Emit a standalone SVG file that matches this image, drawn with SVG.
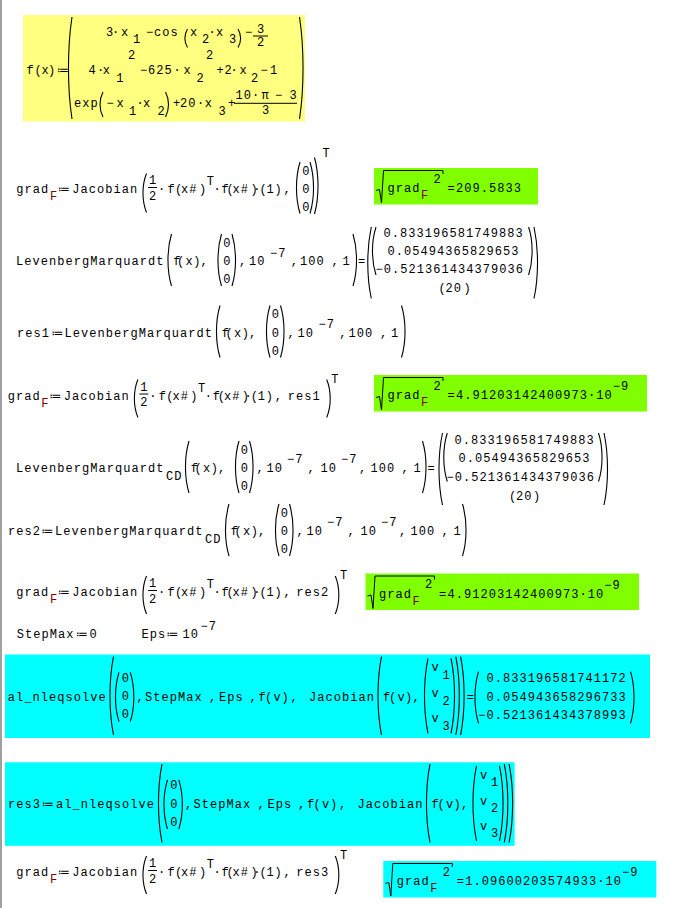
<svg xmlns="http://www.w3.org/2000/svg" width="683" height="908" viewBox="0 0 683 908">
<style>
.t{font-family:"Liberation Mono","DejaVu Sans Mono",monospace;font-size:12px;letter-spacing:1.05px;fill:#000}
.c{text-anchor:middle;letter-spacing:0}
.F{fill:#800000}
.a{font-family:"DejaVu Sans",sans-serif;font-size:12px;text-anchor:middle;fill:#000}
.p{fill:none;stroke:#000;stroke-width:1.1}
.l{stroke:#000;stroke-width:1}
.rad{fill:none;stroke:#000;stroke-width:1}
.g{fill:#80FF00}
.cy{fill:#00FFFF}
</style>
<rect width="683" height="908" fill="#fff"/>
<rect x="0" y="0" width="2" height="908" fill="#a0a0a0"/>

<g id="fx">
<rect x="23" y="15" width="282" height="106.5" fill="#FFFF80"/>
<text class="t c" x="30 38 45 51.5" y="74">f(x)</text>
<text class="a" x="63" y="74">≔</text>
<path class="p" d="M72,17 c-4.7,30.6 -4.7,71.4 0,102 M299.5,17 c4.7,30.6 4.7,71.4 0,102"/>
<text class="t c" x="109.5 115.5 124.7" y="36">3·x</text>
<text class="t c" x="136.5" y="43.3">1</text>
<text class="t c" x="149.5" y="36">−</text>
<text class="t" x="154" y="36">cos</text>
<path class="p" d="M187.5,29 c-3.5,5.5 -3.5,13 0,18.5 M238,29 c3.5,5.5 3.5,13 0,18.5"/>
<text class="t c" x="193.7" y="36">x</text>
<text class="t c" x="205.5" y="43.3">2</text>
<text class="t c" x="212" y="36">·</text>
<text class="t c" x="219.7" y="36">x</text>
<text class="t c" x="232.5" y="43.3">3</text>
<text class="t c" x="248.5" y="36">−</text>
<text class="t c" x="260.5" y="33">3</text>
<line class="l" x1="253" y1="36" x2="268" y2="36"/>
<text class="t c" x="260.5" y="46.3">2</text>
<text class="t c" x="92 100.5 106.3" y="74">4·x</text>
<text class="t c" x="119.8" y="81.5">1</text>
<text class="t c" x="131.5" y="59">2</text>
<text class="t c" x="143.5" y="74">−</text>
<text class="t" x="148" y="74">625</text>
<text class="t c" x="177 187" y="74">·x</text>
<text class="t c" x="200" y="81.5">2</text>
<text class="t c" x="209.5" y="59">2</text>
<text class="t c" x="220 228 234 243" y="74">+2·x</text>
<text class="t c" x="254.5" y="81.5">2</text>
<text class="t c" x="264 273.5" y="74">−1</text>
<text class="t" x="74" y="106.5">exp</text>
<path class="p" d="M103,92 c-4,7.5 -4,17.5 0,25 M165.5,92 c4,7.5 4,17.5 0,25"/>
<text class="t c" x="110 120" y="106.5">−x</text>
<text class="t c" x="132.5" y="114.5">1</text>
<text class="t c" x="140 146.5" y="106.5">·x</text>
<text class="t c" x="161" y="114.5">2</text>
<text class="t c" x="176.5" y="106.5">+</text>
<text class="t" x="180" y="106.5">20</text>
<text class="t c" x="200.5 208.3" y="106.5">·x</text>
<text class="t c" x="222" y="114.5">3</text>
<text class="t c" x="231.5" y="106.5">+</text>
<text class="t" x="235.5" y="99">10</text>
<text class="t c" x="255.5 265 278.5 293" y="99">·π−3</text>
<line class="l" x1="234" y1="103.3" x2="297" y2="103.3"/>
<text class="t c" x="265.5" y="113.8">3</text>
</g>

<g id="grad1">
<text class="t" x="16.3" y="193">grad</text>
<text class="t c F" x="53.5" y="200">F</text>
<text class="a" x="64" y="193">≔</text>
<text class="t" x="72.3" y="193">Jacobian</text>
<path class="p" d="M146.5,173.5 c-4.7,11.7 -4.7,27.3 0,39"/>
<text class="t c" x="152.5" y="184">1</text>
<line class="l" x1="148" y1="187.5" x2="157" y2="187.5"/>
<text class="t c" x="152.5" y="199.5">2</text>
<text class="t c" x="161.5 171 178.5" y="193">·f(</text>
<text class="t" x="181" y="193">x#</text>
<text class="t c" x="202.5" y="193">)</text>
<text class="t c" x="210.3" y="185">T</text>
<text class="t c" x="217 225 230" y="193">·f(</text>
<text class="t" x="232.5" y="193">x#</text>
<text class="t c" x="254 256.8 263 270 278 287" y="193">)·(1),</text>
<path class="p" d="M300,162 c-4.7,15.5 -4.7,36 0,51.5 M310,162 c4.7,15.5 4.7,36 0,51.5 M314.5,157.5 c4.7,17 4.7,39.5 0,56.5"/>
<text class="t c" x="305.8" y="175">0</text>
<text class="t c" x="305.8" y="193">0</text>
<text class="t c" x="305.8" y="210.5">0</text>
<text class="t c" x="326" y="157">T</text>
</g>
<g id="norm1">
<rect class="g" x="374" y="168" width="164" height="36.5"/>
<path class="rad" d="M376,190.5 L379.5,189.5 L381.5,203 L383.5,170.5 H443 V174"/>
<text class="t" x="387.5" y="192">grad</text>
<text class="t c F" x="424.5" y="199">F</text>
<text class="t c" x="437" y="182.5">2</text>
<text class="t c" x="451" y="192">=</text>
<text class="t" x="456" y="192">209.5833</text>
</g>

<g id="lm">
<text class="t" x="16" y="265">LevenbergMarquardt</text>
<path class="p" d="M171.5,234 c-4.7,15.6 -4.7,36.4 0,52 M221.5,234 c-4.7,15.6 -4.7,36.4 0,52 M232,234 c4.7,15.6 4.7,36.4 0,52 M353,234 c4.7,15.6 4.7,36.4 0,52"/>
<text class="t c" x="176.8 180.6 189 196.8 204" y="265">f(x),</text>
<text class="t c" x="226.75" y="247">0</text>
<text class="t c" x="226.75" y="265">0</text>
<text class="t c" x="226.75" y="282.5">0</text>
<text class="t c" x="242.5" y="265">,</text>
<text class="t" x="249" y="265">10</text>
<text class="t" x="270" y="256.5">−7</text>
<text class="t c" x="294.3" y="265">,</text>
<text class="t" x="300" y="265">100</text>
<text class="t c" x="335 346" y="265">,1</text>
<text class="t c" x="361.7" y="265">=</text>
<path class="p" d="M371.3,227 c-4.7,21.5 -4.7,50 0,71.5 M376,227 c-4.7,14.4 -4.7,33.6 0,48 M528.6,227 c4.7,14.4 4.7,33.6 0,48 M534,227 c4.7,21.5 4.7,50 0,71.5"/>
<text class="t" x="383.5" y="236.5">0.833196581749883</text>
<text class="t" x="387.6" y="254.5">0.05494365829653</text>
<text class="t" x="375.5" y="273">−0.521361434379036</text>
<text class="t c" x="442" y="292">(</text>
<text class="t" x="445.6" y="292">20</text>
<text class="t c" x="467" y="292">)</text>
</g>

<g id="res1">
<text class="t" x="17" y="336.5">res1</text>
<text class="a" x="57.5" y="336.5">≔</text>
<text class="t" x="64.5" y="336.5">LevenbergMarquardt</text>
<path class="p" d="M220,305.5 c-4.7,15.6 -4.7,36.4 0,52 M270,305.5 c-4.7,15.6 -4.7,36.4 0,52 M280.5,305.5 c4.7,15.6 4.7,36.4 0,52 M401.5,305.5 c4.7,15.6 4.7,36.4 0,52"/>
<text class="t c" x="225.3 229.1 237.5 245.3 252.5" y="336.5">f(x),</text>
<text class="t c" x="275.25" y="318">0</text>
<text class="t c" x="275.25" y="336.5">0</text>
<text class="t c" x="275.25" y="354.5">0</text>
<text class="t c" x="291" y="336.5">,</text>
<text class="t" x="297.5" y="336.5">10</text>
<text class="t" x="318.5" y="328">−7</text>
<text class="t c" x="342.8" y="336.5">,</text>
<text class="t" x="348.5" y="336.5">100</text>
<text class="t c" x="383.5 394.5" y="336.5">,1</text>
</g>

<g id="grad2">
<text class="t" x="7.7" y="399.5">grad</text>
<text class="t c F" x="44.9" y="406.5">F</text>
<text class="a" x="55.4" y="399.5">≔</text>
<text class="t" x="63.7" y="399.5">Jacobian</text>
<path class="p" d="M137.9,379.5 c-4.7,11.4 -4.7,26.6 0,38 M326.7,379.5 c4.7,11.4 4.7,26.6 0,38"/>
<text class="t c" x="143.9" y="390.5">1</text>
<line class="l" x1="139.4" y1="394" x2="148.4" y2="394"/>
<text class="t c" x="143.9" y="406">2</text>
<text class="t c" x="152.9 162.4 169.9" y="399.5">·f(</text>
<text class="t" x="172.4" y="399.5">x#</text>
<text class="t c" x="193.9" y="399.5">)</text>
<text class="t c" x="201.7" y="391.5">T</text>
<text class="t c" x="208.4 216.4 221.4" y="399.5">·f(</text>
<text class="t" x="223.9" y="399.5">x#</text>
<text class="t c" x="245.4 248.2 254.4 261.4 269.4 278.4" y="399.5">)·(1),</text>
<text class="t" x="287.7" y="399.5">res1</text>
<text class="t c" x="334.9" y="382.5">T</text>
</g>
<g id="norm2">
<rect class="g" x="374" y="375" width="273" height="36.5"/>
<path class="rad" d="M376,397.5 L379.5,396.5 L381.5,410 L383.5,377.5 H443 V381"/>
<text class="t" x="387.5" y="399">grad</text>
<text class="t c F" x="424.5" y="406">F</text>
<text class="t c" x="437" y="389.5">2</text>
<text class="t c" x="451" y="399">=</text>
<text class="t" x="456" y="399">4.91203142400973·10</text>
<text class="t" x="612.75" y="390">−9</text>
</g>

<g id="lmcd">
<text class="t" x="16" y="471.5">LevenbergMarquardt</text>
<text class="t" x="166" y="480">CD</text>
<path class="p" d="M189,441 c-4.7,15.6 -4.7,36.4 0,52 M239,441 c-4.7,15.6 -4.7,36.4 0,52 M249.5,441 c4.7,15.6 4.7,36.4 0,52 M422.5,441 c4.7,15.6 4.7,36.4 0,52"/>
<text class="t c" x="194.3 198.1 206.5 214.3 221.5" y="471.5">f(x),</text>
<text class="t c" x="244.25" y="453.5">0</text>
<text class="t c" x="244.25" y="471.5">0</text>
<text class="t c" x="244.25" y="489.5">0</text>
<text class="t c" x="260" y="471.5">,</text>
<text class="t" x="266.5" y="471.5">10</text>
<text class="t" x="287" y="462.5">−7</text>
<text class="t c" x="311" y="471.5">,</text>
<text class="t" x="320.5" y="471.5">10</text>
<text class="t" x="341" y="462.5">−7</text>
<text class="t c" x="362.5" y="471.5">,</text>
<text class="t" x="370.5" y="471.5">100</text>
<text class="t c" x="405 417" y="471.5">,1</text>
<text class="t c" x="431" y="471.5">=</text>
<path class="p" d="M442.5,433 c-4.7,21.6 -4.7,50.4 0,72 M447.3,433 c-4.7,14.55 -4.7,33.95 0,48.5 M598.5,433 c4.7,14.55 4.7,33.95 0,48.5 M604,433 c4.7,21.6 4.7,50.4 0,72"/>
<text class="t" x="454.5" y="444">0.833196581749883</text>
<text class="t" x="458.6" y="462">0.05494365829653</text>
<text class="t" x="446.5" y="480.5">−0.521361434379036</text>
<text class="t c" x="512.5" y="499.5">(</text>
<text class="t" x="516" y="499.5">20</text>
<text class="t c" x="536.5" y="499.5">)</text>
</g>

<g id="res2">
<text class="t" x="8" y="534.5">res2</text>
<text class="a" x="47.5" y="534.5">≔</text>
<text class="t" x="55" y="534.5">LevenbergMarquardt</text>
<text class="t" x="205" y="543">CD</text>
<path class="p" d="M229,504 c-4.7,15.6 -4.7,36.4 0,52 M279,504 c-4.7,15.6 -4.7,36.4 0,52 M289.5,504 c4.7,15.6 4.7,36.4 0,52 M462.5,504 c4.7,15.6 4.7,36.4 0,52"/>
<text class="t c" x="234.3 238.1 246.5 254.3 261.5" y="534.5">f(x),</text>
<text class="t c" x="284.25" y="516.5">0</text>
<text class="t c" x="284.25" y="534.5">0</text>
<text class="t c" x="284.25" y="552.5">0</text>
<text class="t c" x="300" y="534.5">,</text>
<text class="t" x="306.5" y="534.5">10</text>
<text class="t" x="327" y="525.5">−7</text>
<text class="t c" x="351" y="534.5">,</text>
<text class="t" x="360.5" y="534.5">10</text>
<text class="t" x="381" y="525.5">−7</text>
<text class="t c" x="402.5" y="534.5">,</text>
<text class="t" x="410.5" y="534.5">100</text>
<text class="t c" x="445 457" y="534.5">,1</text>
</g>

<g id="grad3">
<text class="t" x="16.3" y="596">grad</text>
<text class="t c F" x="53.5" y="603">F</text>
<text class="a" x="64" y="596">≔</text>
<text class="t" x="72.3" y="596">Jacobian</text>
<path class="p" d="M146.5,576 c-4.7,11.4 -4.7,26.6 0,38 M335.3,576 c4.7,11.4 4.7,26.6 0,38"/>
<text class="t c" x="152.5" y="587">1</text>
<line class="l" x1="148" y1="590.5" x2="157" y2="590.5"/>
<text class="t c" x="152.5" y="602.5">2</text>
<text class="t c" x="161.5 171 178.5" y="596">·f(</text>
<text class="t" x="181" y="596">x#</text>
<text class="t c" x="202.5" y="596">)</text>
<text class="t c" x="210.3" y="588">T</text>
<text class="t c" x="217 225 230" y="596">·f(</text>
<text class="t" x="232.5" y="596">x#</text>
<text class="t c" x="254 256.8 263 270 278 287" y="596">)·(1),</text>
<text class="t" x="296.3" y="596">res2</text>
<text class="t c" x="343.5" y="578.5">T</text>
</g>
<g id="norm3">
<rect class="g" x="365.5" y="573.5" width="273.5" height="36.5"/>
<path class="rad" d="M367.5,596 L371,595 L373,608.5 L375,576 H434.5 V579.5"/>
<text class="t" x="379" y="597.5">grad</text>
<text class="t c F" x="416" y="604.5">F</text>
<text class="t c" x="428.5" y="588">2</text>
<text class="t c" x="442.5" y="597.5">=</text>
<text class="t" x="447.5" y="597.5">4.91203142400973·10</text>
<text class="t" x="604.25" y="588.5">−9</text>
</g>

<g id="params">
<text class="t" x="16.8" y="638">StepMax</text>
<text class="a" x="82" y="638">≔</text>
<text class="t" x="89.5" y="638">0</text>
<text class="t" x="141.5" y="638">Eps</text>
<text class="a" x="172.5" y="638">≔</text>
<text class="t" x="182.5" y="638">10</text>
<text class="t" x="200.5" y="629.5">−7</text>
</g>

<g id="al">
<rect class="cy" x="5" y="654.5" width="645" height="83.5"/>
<text class="t" x="7.8" y="700.5">al_nleqsolve</text>
<path class="p" d="M113.5,656.7 c-4.7,23.5 -4.7,54.8 0,78.3 M119,672.3 c-4.7,14.8 -4.7,34.6 0,49.4 M130.3,672.3 c4.7,14.8 4.7,34.6 0,49.4 M381.5,656.7 c-4.7,23.5 -4.7,54.8 0,78.3 M428,658.3 c-4.7,22.5 -4.7,52.5 0,75 M451,658.3 c4.7,22.5 4.7,52.5 0,75 M455.8,656.7 c4.7,23.5 4.7,54.8 0,78.3 M460.6,656.7 c4.7,23.5 4.7,54.8 0,78.3 M478.5,671.7 c-4.7,15.5 -4.7,36.1 0,51.6 M630.5,671.7 c4.7,15.5 4.7,36.1 0,51.6"/>
<text class="t c" x="125.3" y="681.5">0</text>
<text class="t c" x="125.3" y="700">0</text>
<text class="t c" x="125.3" y="718">0</text>
<text class="t c" x="140" y="700.5">,</text>
<text class="t" x="145" y="700.5">StepMax</text>
<text class="t c" x="212.5" y="700.5">,</text>
<text class="t" x="219" y="700.5">Eps</text>
<text class="t c" x="253 262 268.5 277 285 294" y="700.5">,f(v),</text>
<text class="t" x="309" y="700.5">Jacobian</text>
<text class="t c" x="386.5 392.5 401 408.5 416" y="700.5">f(v),</text>
<text class="t c" x="435" y="671">v</text>
<text class="t c" x="435" y="697">v</text>
<text class="t c" x="435" y="722">v</text>
<text class="t c" x="446" y="678.5">1</text>
<text class="t c" x="446" y="704.5">2</text>
<text class="t c" x="446" y="729.5">3</text>
<text class="t c" x="470.3" y="700.5">=</text>
<text class="t" x="486.5" y="682">0.833196581741172</text>
<text class="t" x="486.5" y="700.5">0.054943658296733</text>
<text class="t" x="478.25" y="719">−0.521361434378993</text>
</g>

<g id="res3">
<rect class="cy" x="5" y="762.3" width="509.6" height="83.5"/>
<text class="t" x="8" y="808">res3</text>
<text class="a" x="48" y="808">≔</text>
<text class="t" x="56" y="808">al_nleqsolve</text>
<path class="p" d="M162,764.2 c-4.7,23.5 -4.7,54.8 0,78.3 M167.5,779.8 c-4.7,14.8 -4.7,34.6 0,49.4 M178.8,779.8 c4.7,14.8 4.7,34.6 0,49.4 M430,764.2 c-4.7,23.5 -4.7,54.8 0,78.3 M476.5,765.8 c-4.7,22.5 -4.7,52.5 0,75 M499.5,765.8 c4.7,22.5 4.7,52.5 0,75 M504.3,764.2 c4.7,23.5 4.7,54.8 0,78.3 M509.1,764.2 c4.7,23.5 4.7,54.8 0,78.3"/>
<text class="t c" x="173.8" y="789">0</text>
<text class="t c" x="173.8" y="807.5">0</text>
<text class="t c" x="173.8" y="825.5">0</text>
<text class="t c" x="188.5" y="808">,</text>
<text class="t" x="193.5" y="808">StepMax</text>
<text class="t c" x="261" y="808">,</text>
<text class="t" x="267.5" y="808">Eps</text>
<text class="t c" x="301.5 310.5 317 325.5 333.5 342.5" y="808">,f(v),</text>
<text class="t" x="357.5" y="808">Jacobian</text>
<text class="t c" x="435 441 449.5 457 464.5" y="808">f(v),</text>
<text class="t c" x="483.5" y="778.5">v</text>
<text class="t c" x="483.5" y="804.5">v</text>
<text class="t c" x="483.5" y="829.5">v</text>
<text class="t c" x="494.5" y="786">1</text>
<text class="t c" x="494.5" y="812">2</text>
<text class="t c" x="494.5" y="837">3</text>
</g>

<g id="grad4">
<text class="t" x="16.3" y="876">grad</text>
<text class="t c F" x="53.5" y="883">F</text>
<text class="a" x="64" y="876">≔</text>
<text class="t" x="72.3" y="876">Jacobian</text>
<path class="p" d="M146.5,856 c-4.7,11.4 -4.7,26.6 0,38 M335.3,856 c4.7,11.4 4.7,26.6 0,38"/>
<text class="t c" x="152.5" y="867">1</text>
<line class="l" x1="148" y1="870.5" x2="157" y2="870.5"/>
<text class="t c" x="152.5" y="882.5">2</text>
<text class="t c" x="161.5 171 178.5" y="876">·f(</text>
<text class="t" x="181" y="876">x#</text>
<text class="t c" x="202.5" y="876">)</text>
<text class="t c" x="210.3" y="868">T</text>
<text class="t c" x="217 225 230" y="876">·f(</text>
<text class="t" x="232.5" y="876">x#</text>
<text class="t c" x="254 256.8 263 270 278 287" y="876">)·(1),</text>
<text class="t" x="296.3" y="876">res3</text>
<text class="t c" x="343.5" y="858.5">T</text>
</g>
<g id="norm4">
<rect class="cy" x="383.3" y="861" width="273" height="36.5"/>
<path class="rad" d="M385.3,883.5 L388.8,882.5 L390.8,896 L392.8,863.5 H452.3 V867"/>
<text class="t" x="396.8" y="885">grad</text>
<text class="t c F" x="433.8" y="892">F</text>
<text class="t c" x="446.3" y="875.5">2</text>
<text class="t c" x="460.3" y="885">=</text>
<text class="t" x="465.3" y="885">1.09600203574933·10</text>
<text class="t" x="622" y="876">−9</text>
</g>
</svg>
